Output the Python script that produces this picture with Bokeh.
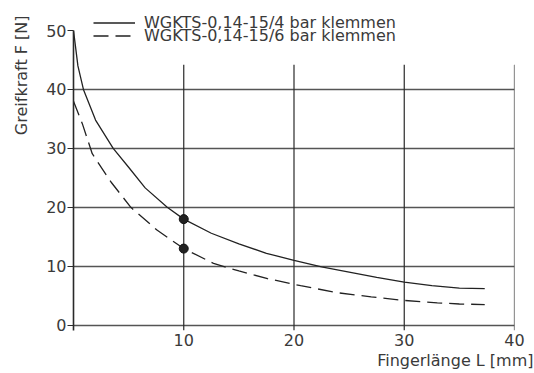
from bokeh.plotting import figure
from bokeh.models import Range1d, FixedTicker, Legend, LegendItem, Title
from bokeh.embed import file_html
from bokeh.resources import INLINE

# ---- data ----
x_solid = [0, 0.4, 0.9, 2.0, 3.6, 5.0, 6.5, 8.5, 10, 12.5, 15, 17.5, 20, 22.5, 25, 27.5, 30, 32.5, 35, 37.3]
y_solid = [50, 44, 40, 34.8, 30, 26.8, 23.3, 20, 18, 15.6, 13.8, 12.2, 11, 9.9, 9.0, 8.1, 7.3, 6.7, 6.3, 6.2]

x_dashed = [0, 0.8, 1.7, 3.4, 5.2, 7.6, 10, 12.7, 15, 17.6, 20.6, 24, 27, 30, 33, 35, 37.3]
y_dashed = [38, 34.2, 29.1, 24.3, 20, 16.1, 13, 10.5, 9.2, 7.9, 6.7, 5.5, 4.8, 4.2, 3.8, 3.6, 3.5]

marker_x = [10, 10]
marker_y = [18, 13]

x_ticks = [10, 20, 30, 40]
y_ticks = [0, 10, 20, 30, 40, 50]
y_grid = [0, 10, 20, 30, 40]

series_labels = ["WGKTS-0,14-15/4 bar klemmen", "WGKTS-0,14-15/6 bar klemmen"]
x_label = "Fingerlänge L [mm]"
y_label = "Greifkraft F [N]"

FONT = "DejaVu Sans"
TXT = "#3a3a3a"
LINE = "#222222"

p = figure(frame_width=441, frame_height=320, output_backend="svg", toolbar_location=None,
           x_range=Range1d(0, 40), y_range=Range1d(-0.9, 53.4),
           min_border_left=73, min_border_right=20, min_border_top=10, min_border_bottom=40)
p.outline_line_color = None
p.background_fill_color = "white"
p.border_fill_color = "white"

# axes
p.xaxis.ticker = FixedTicker(ticks=x_ticks)
p.xaxis.axis_line_color = None
p.xaxis.major_tick_line_color = None
p.xaxis.minor_tick_line_color = None
p.xaxis.major_label_standoff = -3
p.xaxis.major_label_text_font = FONT
p.xaxis.major_label_text_font_size = "16px"
p.xaxis.major_label_text_color = TXT

p.yaxis.ticker = FixedTicker(ticks=y_ticks)
p.yaxis.bounds = (-0.9, 50)
p.yaxis.axis_line_color = "#2a2a2a"
p.yaxis.axis_line_width = 1.6
p.yaxis.major_tick_line_color = "#2a2a2a"
p.yaxis.major_tick_line_width = 1.2
p.yaxis.major_tick_out = 6
p.yaxis.major_tick_in = 0
p.yaxis.minor_tick_line_color = None
p.yaxis.major_label_standoff = 1
p.yaxis.major_label_text_font = FONT
p.yaxis.major_label_text_font_size = "16px"
p.yaxis.major_label_text_color = TXT

# grid
p.xgrid.visible = False
p.ygrid.ticker = FixedTicker(ticks=y_grid)
p.ygrid.grid_line_color = "#555555"
p.ygrid.grid_line_width = 1.6
p.ygrid.grid_line_alpha = 1.0

vgrid_top = 44.2
p.segment(x0=x_ticks, y0=[-0.9] * len(x_ticks), x1=x_ticks, y1=[vgrid_top] * len(x_ticks),
          line_color="#2a2a2a", line_width=1.2)

# curves
r1 = p.line(x_solid, y_solid, line_color=LINE, line_width=1.3)
r2 = p.line(x_dashed, y_dashed, line_color=LINE, line_width=1.3, line_dash="15 7")
p.scatter(marker_x, marker_y, size=9, fill_color="#222222", line_color="#111111")

legend_style = dict(orientation="vertical", padding=0, margin=0, spacing=0,
                    label_height=19, glyph_height=19, glyph_width=42, label_standoff=9,
                    label_text_font=FONT, label_text_font_size="16px", label_text_color=TXT,
                    border_line_color=None, background_fill_alpha=0)
legend1 = Legend(items=[LegendItem(label=series_labels[0], renderers=[r1])],
                 location=(20, 298), **legend_style)
legend2 = Legend(items=[LegendItem(label=series_labels[1], renderers=[r2])],
                 location=(20, 285), **legend_style)
p.add_layout(legend1, "center")
p.add_layout(legend2, "center")

p.add_layout(Title(text=x_label, align="right", offset=-19, standoff=1,
                   text_font=FONT, text_font_size="16px", text_font_style="normal",
                   text_color=TXT), "below")
p.add_layout(Title(text=y_label, align="right", vertical_align="top", offset=5, standoff=22,
                   text_font=FONT, text_font_size="16px", text_font_style="normal",
                   text_color=TXT), "left")

open("out.html", "w").write(file_html(p, INLINE))
